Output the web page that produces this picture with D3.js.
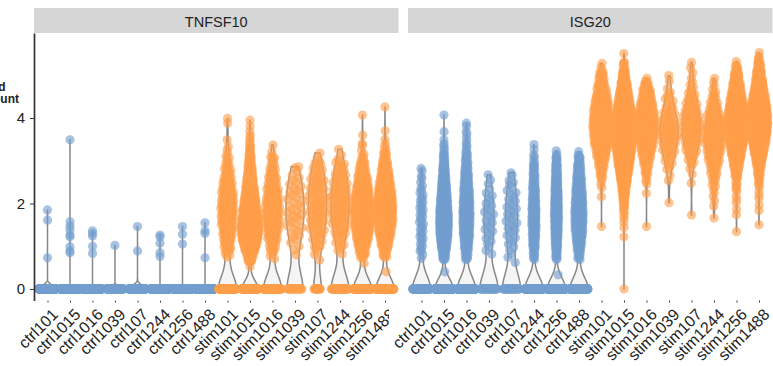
<!DOCTYPE html>
<html lang="en">
<head>
<meta charset="UTF-8">
<title>TNFSF10 / ISG20 expression by sample</title>
<script src="https://cdn.jsdelivr.net/npm/d3@7"></script>
<style>
    body { margin: 0; background: #fff; }
    svg text { font-family: "Liberation Sans", Arial, Helvetica, sans-serif; fill: #222; }
    .strip rect { fill: #d6d6d6; }
    .strip text { font-size: 14.5px; }
    .y.axis text { font-size: 15px; }
    .y.axis path, .y.axis line { stroke: #333; }
    .y.axis path { stroke-width: 1.7; }
    .x.axis text { font-size: 16px; }
    .x.axis line { stroke: #333; }
    .violin { fill: #cccccc; fill-opacity: 0.2; stroke: #888; stroke-width: 1.5; }
    .ytitle { font-size: 12px; font-weight: bold; }
</style>
</head>
<body>
<svg id="img" width="773" height="366"></svg>
<script>
    // samples (x categories)
    var samples = ["ctrl101", "ctrl1015", "ctrl1016", "ctrl1039", "ctrl107", "ctrl1244", "ctrl1256", "ctrl1488",
                   "stim101", "stim1015", "stim1016", "stim1039", "stim107", "stim1244", "stim1256", "stim1488"];
    var genes = ["TNFSF10", "ISG20"];
    var yTicks = [0, 2, 4];

    // cells with zero expression, per sample
    var tnfsf10Zeros = [117, 691, 445, 59, 68, 345, 497, 446, 85, 160, 78, 20, 14, 42, 118, 140];
    var isg20Zeros = [77, 292, 209, 30, 30, 210, 300, 198, 0, 1, 0, 0, 0, 0, 0, 0];

    // non-zero cells: [expression, number of cells] (0.25 wide bins)
    var tnfsf10Bins = [
        [[0.73, 1], [1.61, 1], [1.85, 1]],
        [[0.85, 1], [0.89, 1], [0.99, 1], [1.22, 1], [1.26, 1], [1.38, 1], [1.47, 1], [1.57, 1], [3.49, 1]],
        [[0.83, 1], [1.0, 1], [1.24, 1], [1.3, 1], [1.36, 1]],
        [[1.02, 1]],
        [[0.89, 1], [1.46, 1]],
        [[0.76, 1], [0.85, 1], [1.07, 1], [1.22, 1], [1.26, 1]],
        [[1.05, 1], [1.28, 1], [1.46, 1]],
        [[0.73, 1], [1.3, 1], [1.36, 1], [1.55, 1]],
        [[0.85, 6], [1.0, 10], [1.25, 16], [1.5, 20], [1.75, 22], [2.0, 22], [2.25, 20], [2.5, 15], [2.75, 10], [3.0, 6], [3.25, 3], [3.49, 1], [3.88, 1], [3.99, 1]],
        [[0.52, 1], [0.75, 25], [1.0, 70], [1.25, 95], [1.5, 95], [1.75, 80], [2.0, 65], [2.25, 50], [2.5, 38], [2.75, 25], [3.0, 15], [3.25, 8], [3.5, 4], [3.75, 2], [3.95, 1]],
        [[0.8, 4], [1.0, 10], [1.25, 16], [1.5, 22], [1.75, 24], [2.0, 22], [2.25, 18], [2.5, 14], [2.75, 10], [3.0, 6], [3.15, 2], [3.37, 1]],
        [[0.8, 1], [1.0, 3], [1.25, 5], [1.5, 6], [1.75, 7], [2.0, 6], [2.25, 6], [2.5, 5], [2.75, 3], [2.86, 1]],
        [[0.68, 1], [0.9, 4], [1.1, 6], [1.35, 9], [1.6, 10], [1.85, 11], [2.1, 11], [2.35, 10], [2.6, 9], [2.85, 6], [3.0, 3], [3.18, 1]],
        [[0.9, 3], [1.1, 6], [1.35, 10], [1.6, 12], [1.85, 13], [2.1, 13], [2.35, 12], [2.6, 10], [2.85, 7], [3.05, 3], [3.27, 1]],
        [[0.6, 1], [0.85, 15], [1.1, 30], [1.35, 40], [1.6, 45], [1.85, 45], [2.1, 40], [2.35, 35], [2.6, 25], [2.85, 15], [3.05, 6], [3.3, 2], [3.4, 1], [3.6, 1], [4.07, 1]],
        [[0.4, 1], [0.85, 12], [1.1, 28], [1.35, 42], [1.6, 50], [1.85, 52], [2.1, 48], [2.35, 40], [2.6, 30], [2.85, 20], [3.1, 10], [3.3, 4], [3.5, 1], [3.7, 1], [4.26, 1]]
    ];

    var isg20Bins = [
        [[0.8, 3], [1.0, 5], [1.25, 6], [1.5, 6], [1.75, 6], [2.0, 6], [2.25, 5], [2.5, 3], [2.7, 2], [2.82, 1]],
        [[0.4, 1], [0.8, 20], [1.05, 45], [1.3, 62], [1.55, 66], [1.8, 60], [2.05, 50], [2.3, 40], [2.55, 28], [2.8, 18], [3.05, 10], [3.3, 5], [3.49, 1], [3.68, 1], [4.07, 1]],
        [[0.8, 12], [1.05, 22], [1.3, 30], [1.55, 32], [1.8, 34], [2.05, 30], [2.3, 25], [2.55, 20], [2.8, 15], [3.05, 10], [3.3, 5], [3.55, 3], [3.75, 2], [3.88, 1]],
        [[0.9, 3], [1.15, 4], [1.4, 5], [1.65, 5], [1.9, 5], [2.15, 4], [2.4, 2], [2.55, 1], [2.67, 1]],
        [[0.68, 2], [0.9, 3], [1.15, 5], [1.4, 6], [1.65, 6], [1.9, 6], [2.15, 5], [2.4, 4], [2.6, 2], [2.72, 1]],
        [[0.8, 8], [1.05, 14], [1.3, 18], [1.55, 21], [1.8, 21], [2.05, 18], [2.3, 14], [2.55, 11], [2.8, 8], [3.0, 4], [3.2, 2], [3.38, 1]],
        [[0.33, 1], [0.8, 10], [1.05, 18], [1.3, 24], [1.55, 27], [1.8, 30], [2.05, 26], [2.3, 22], [2.55, 18], [2.8, 13], [3.0, 8], [3.15, 3]],
        [[0.8, 10], [1.05, 22], [1.3, 32], [1.55, 38], [1.8, 38], [2.05, 34], [2.3, 28], [2.55, 22], [2.8, 16], [3.0, 9], [3.13, 3]],
        [[1.46, 1], [2.16, 1], [2.45, 3], [2.7, 8], [2.95, 16], [3.2, 26], [3.45, 38], [3.7, 42], [3.95, 42], [4.2, 38], [4.45, 31], [4.7, 20], [4.95, 12], [5.1, 4], [5.28, 1]],
        [[1.22, 1], [1.5, 2], [1.75, 4], [2.0, 10], [2.25, 20], [2.5, 35], [2.75, 55], [3.0, 75], [3.25, 90], [3.5, 102], [3.75, 104], [4.0, 97], [4.25, 80], [4.5, 60], [4.75, 40], [5.0, 20], [5.2, 6], [5.3, 1], [5.51, 1]],
        [[1.46, 1], [2.24, 1], [2.55, 4], [2.8, 10], [3.05, 20], [3.3, 32], [3.55, 42], [3.8, 46], [4.05, 44], [4.3, 34], [4.55, 22], [4.75, 12], [4.93, 1]],
        [[2.02, 1], [2.6, 2], [2.9, 5], [3.15, 8], [3.4, 11], [3.65, 13], [3.9, 12], [4.15, 8], [4.4, 5], [4.6, 3], [4.93, 2]],
        [[1.73, 1], [2.48, 1], [2.75, 2], [3.0, 6], [3.25, 11], [3.5, 15], [3.75, 17], [4.0, 16], [4.25, 12], [4.5, 8], [4.75, 4], [5.0, 2], [5.24, 2]],
        [[1.66, 1], [2.0, 2], [2.25, 3], [2.5, 6], [2.75, 10], [3.0, 16], [3.25, 22], [3.5, 26], [3.75, 25], [4.0, 20], [4.25, 13], [4.5, 7], [4.75, 3], [4.93, 1]],
        [[1.34, 1], [1.8, 2], [2.1, 3], [2.4, 6], [2.7, 14], [2.95, 28], [3.2, 45], [3.45, 60], [3.7, 70], [3.95, 72], [4.2, 65], [4.45, 50], [4.7, 35], [4.95, 20], [5.1, 8], [5.24, 3]],
        [[1.5, 1], [1.9, 2], [2.2, 3], [2.5, 6], [2.75, 14], [3.0, 30], [3.25, 50], [3.5, 68], [3.75, 80], [4.0, 82], [4.25, 74], [4.5, 58], [4.75, 40], [5.0, 25], [5.2, 12], [5.35, 4], [5.47, 2]]
    ];

    var zerosByGene = [tnfsf10Zeros, isg20Zeros];
    var binsByGene = [tnfsf10Bins, isg20Bins];
    var binWidth = 0.25;
    var colours = { ctrl: "#729ECE", stim: "#FF9E4A" };

    var vis = d3.select("#img"),
        PANELS = [[34, 398.5], [408, 772.5]],
        TOP = 33,
        BOTTOM = 300.5;

    var yRange = d3.scaleLinear().domain([-0.27, 5.99]).range([BOTTOM, TOP]);

    // left panel's x labels get cut where the next panel begins
    vis.append("defs").append("clipPath").attr("id", "clipLeftLabels")
        .append("rect").attr("x", 0).attr("y", 0).attr("width", 389).attr("height", 366);

    // cells of one sample: zeros plus binned values spread over their bin
    function cellValues(zeros, bins) {
        var vals = d3.range(zeros).map(function () { return 0; });
        bins.forEach(function (b) {
            for (var j = 0; j < b[1]; j++) {
                vals.push(b[1] === 1 ? b[0] : b[0] + ((j + 0.5) / b[1] - 0.5) * binWidth);
            }
        });
        return vals.sort(d3.ascending);
    }

    // R's bw.nrd0
    function bwNrd0(x) {
        var hi = d3.deviation(x);
        var iqr = d3.quantileSorted(x, 0.75) - d3.quantileSorted(x, 0.25);
        var lo = Math.min(hi, iqr / 1.34);
        if (!lo) lo = hi || Math.abs(x[0]) || 1;
        return 0.9 * lo * Math.pow(x.length, -0.2);
    }

    function density(x, grid) {
        var bw = bwNrd0(x);
        var counts = d3.rollups(x, function (v) { return v.length; }, function (d) { return d; });
        return grid.map(function (g) {
            var s = 0;
            counts.forEach(function (c) {
                var z = (g - c[0]) / bw;
                s += c[1] * Math.exp(-0.5 * z * z);
            });
            return s / (x.length * bw * Math.sqrt(2 * Math.PI));
        });
    }

    // van der Corput sequence, base 2 (quasirandom offsets)
    function vdc(i) {
        var r = 0, f = 0.5;
        while (i > 0) { r += f * (i & 1); i >>= 1; f /= 2; }
        return r;
    }

    genes.forEach(function (gene, gi) {
        var x0 = PANELS[gi][0], x1 = PANELS[gi][1];
        var xRange = d3.scalePoint().domain(samples).range([x0, x1]).padding(0.6);
        var step = xRange.step();

        // strip
        var strip = vis.append("g").attr("class", "strip");
        strip.append("rect").attr("x", x0).attr("y", 8).attr("width", x1 - x0).attr("height", TOP - 8);
        strip.append("text").attr("x", (x0 + x1) / 2).attr("y", 26.5)
            .attr("text-anchor", "middle").text(gene);

        var groups = samples.map(function (s, si) {
            var vals = cellValues(zerosByGene[gi][si], binsByGene[gi][si]);
            var lo = vals[0], hi = vals[vals.length - 1];
            var grid = d3.range(512).map(function (i) { return lo + (hi - lo) * i / 511; });
            var dens = density(vals, grid);
            return { sample: s, cond: s.slice(0, 4), vals: vals, lo: lo, hi: hi, grid: grid, dens: dens, max: d3.max(dens) };
        });

        // violins
        var violins = vis.append("g");
        groups.forEach(function (g) {
            var cx = xRange(g.sample);
            var w = d3.scaleLinear().domain([0, g.max]).range([0, 0.4 * step]);
            var area = d3.area()
                .y(function (d, i) { return yRange(g.grid[i]); })
                .x0(function (d) { return cx - w(d); })
                .x1(function (d) { return cx + w(d); });
            violins.append("path").attr("class", "violin").attr("d", area(g.dens));
        });

        // points
        var points = vis.append("g");
        groups.forEach(function (g) {
            var cx = xRange(g.sample);
            var w = d3.scaleLinear().domain([0, g.max]).range([0, 0.4 * step]);
            var dAt = function (v) {
                if (g.hi === g.lo) return g.max;
                var t = (v - g.lo) / (g.hi - g.lo) * 511;
                var i = Math.min(510, Math.floor(t)), f = t - i;
                return g.dens[i] * (1 - f) + g.dens[i + 1] * f;
            };
            points.selectAll(null)
                .data(g.vals)
                .enter().append("circle")
                .attr("cx", function (v, i) { return cx + (vdc(i + 1) - 0.5) * 2 * w(dAt(v)); })
                .attr("cy", function (v) { return yRange(v); })
                .attr("r", 4.6)
                .attr("fill", colours[g.cond])
                .attr("fill-opacity", 0.62);
        });

        // x axis
        var xAxis = d3.axisBottom(xRange).tickSize(2).tickSizeOuter(0);
        var gx = vis.append("g")
            .attr("class", "x axis")
            .attr("transform", "translate(0," + BOTTOM + ")")
            .call(xAxis);
        gx.select(".domain").remove();
        gx.selectAll(".tick text")
            .attr("x", 0).attr("y", 0).attr("dy", "0.71em")
            .attr("text-anchor", "end")
            .attr("transform", "translate(3,7) rotate(-45)");
        if (gi === 0) gx.attr("clip-path", "url(#clipLeftLabels)");

        if (gi === 0) {
            var yAxis = d3.axisLeft(yRange).tickValues(yTicks).tickFormat(d3.format("d"))
                .tickSize(4).tickSizeOuter(0).tickPadding(5);
            vis.append("g")
                .attr("class", "y axis")
                .attr("transform", "translate(" + x0 + ",0)")
                .call(yAxis);
        }
    });

    // y title (runs off the left edge, as in the source figure)
    vis.append("text").attr("class", "ytitle").attr("x", 5.5).attr("y", 91).attr("text-anchor", "end").text("Normalized");
    vis.append("text").attr("class", "ytitle").attr("x", 19).attr("y", 103).attr("text-anchor", "end").text("count");
</script>
</body>
</html>
